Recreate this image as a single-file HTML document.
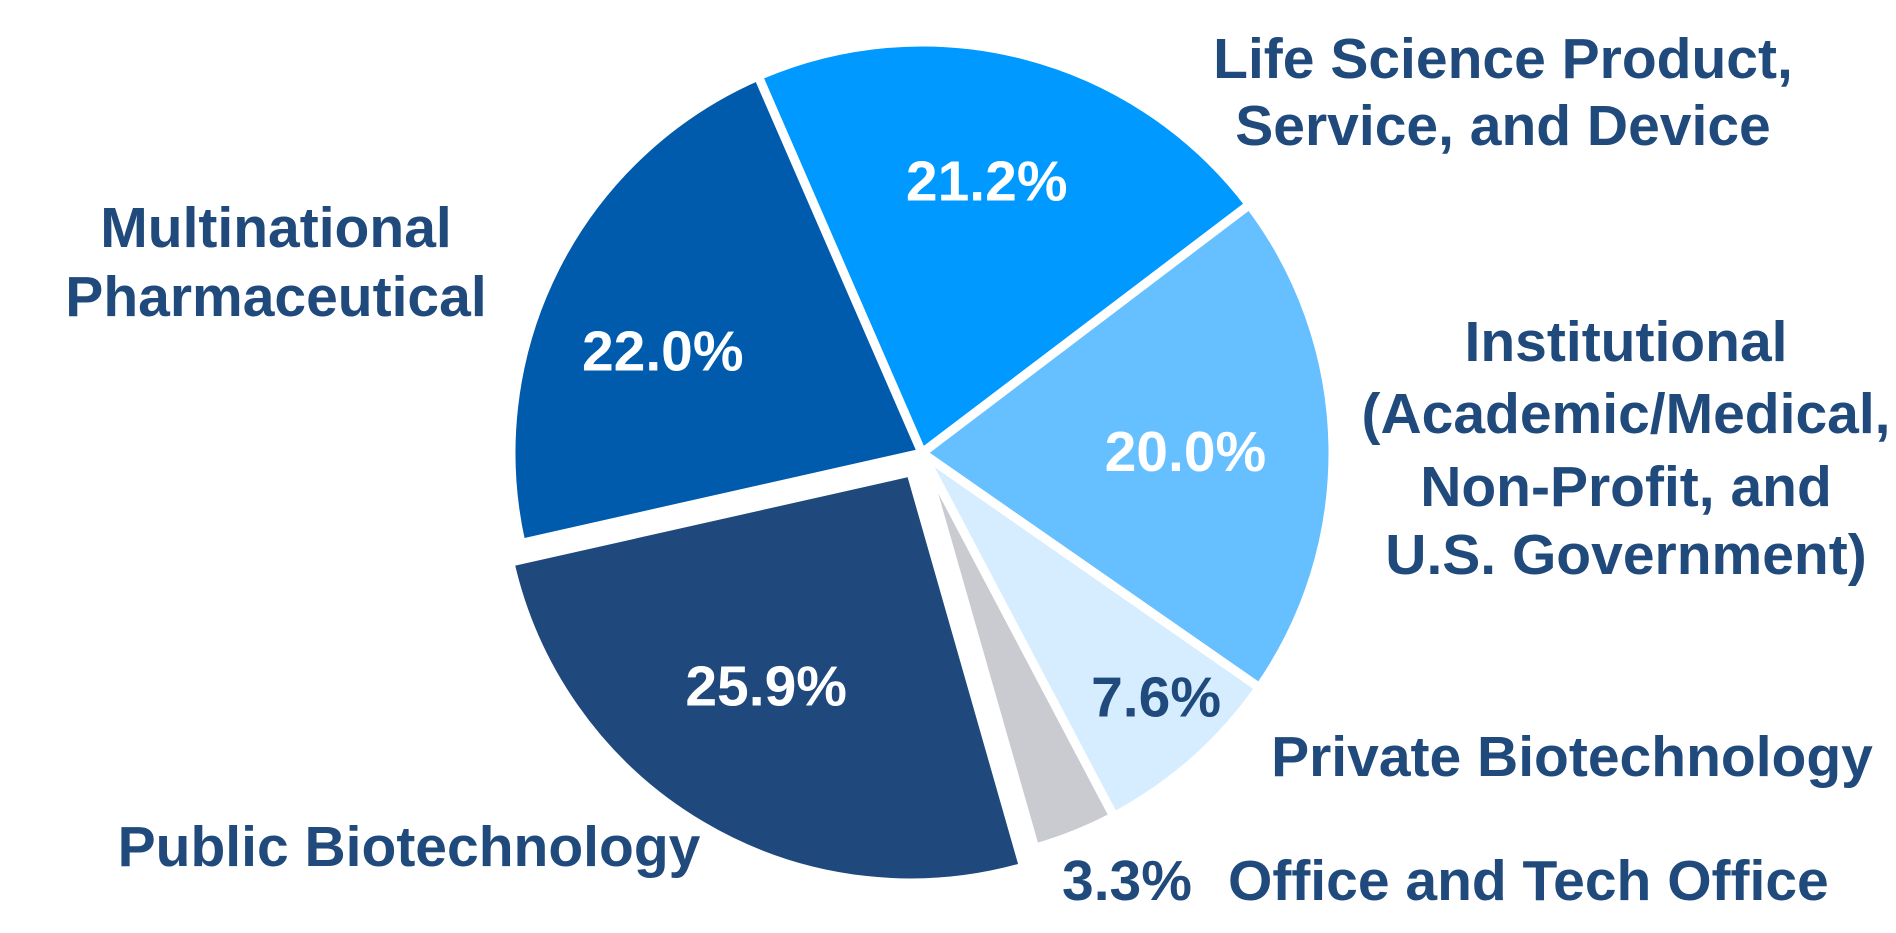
<!DOCTYPE html>
<html><head><meta charset="utf-8"><style>
html,body{margin:0;padding:0;background:#fff;}
svg{display:block;}
text{font-family:"Liberation Sans",Arial,sans-serif;font-weight:bold;}
</style></head><body>
<svg id="chart" width="1896" height="933" viewBox="0 0 1896 933" xmlns="http://www.w3.org/2000/svg">
<g id="slices"></g>
<g id="pcts"></g>
<g fill="#214a7c" font-size="57" text-anchor="middle">
<text x="1503" y="78">Life Science Product,</text>
<text x="1503" y="145">Service, and Device</text>
<text x="276" y="247">Multinational</text>
<text x="276" y="316">Pharmaceutical</text>
<text x="1626" y="361">Institutional</text>
<text x="1626" y="433">(Academic/Medical,</text>
<text x="1626" y="506">Non-Profit, and</text>
<text x="1626" y="574">U.S. Government)</text>
<text x="1572" y="776">Private Biotechnology</text>
<text x="409" y="866">Public Biotechnology</text>
<text x="1062" y="900" text-anchor="start">3.3%</text>
<text x="1228" y="900" text-anchor="start">Office and Tech Office</text>
</g>
</svg>
<script>
const categories = ["Life Science Product, Service, and Device","Institutional","Private Biotechnology","Office and Tech Office","Public Biotechnology","Multinational Pharmaceutical"];
const values = [21.2, 20.0, 7.6, 3.3, 25.9, 22.0];
const valueLabels = ["21.2%","20.0%","7.6%","","25.9%","22.0%"];
const colors = ["#0099ff","#66bfff","#d6edff","#c9cbd1","#1f497d","#005bac"];
const labelColors = ["#fff","#fff","#214a7c","#fff","#fff","#fff"];
const explode = [0,0,0,0,22,0];
const nudgeX = [-6,-16,8,0,-2,-10];
const nudgeY = [-2,4,-12,0,-27,24];

const cx = 922, cy = 453, R = 411, startDeg = -23.5;
const ns = "http://www.w3.org/2000/svg";
const total = values.reduce((a,b)=>a+b,0);
function pt(deg, r, ox, oy){ const a = deg*Math.PI/180; return [ox + r*Math.sin(a), oy - r*Math.cos(a)]; }
const gS = document.getElementById('slices'), gP = document.getElementById('pcts');
let ang = startDeg;
values.forEach((v,i)=>{
  const sweep = v/total*360, a0 = ang, a1 = ang+sweep, mid = ang+sweep/2;
  const [ox,oy] = pt(mid, explode[i], cx, cy);
  const p0 = pt(a0,R,ox,oy), p1 = pt(a1,R,ox,oy);
  const path = document.createElementNS(ns,'path');
  path.setAttribute('d',`M${ox},${oy} L${p0[0]},${p0[1]} A${R},${R} 0 ${sweep>180?1:0} 1 ${p1[0]},${p1[1]} Z`);
  path.setAttribute('fill',colors[i]);
  path.setAttribute('stroke','#fff');
  path.setAttribute('stroke-width','9');
  path.setAttribute('stroke-linejoin','round');
  
  
  gS.appendChild(path);
  if(valueLabels[i]){
    const lr = sweep < 40 ? 0.83*R : 0.68*R;
    const lp = pt(mid, lr, ox, oy);
    const t = document.createElementNS(ns,'text');
    t.setAttribute('x',lp[0]+nudgeX[i]); t.setAttribute('y',lp[1]+20+nudgeY[i]);
    t.setAttribute('text-anchor','middle'); t.setAttribute('font-size','57');
    t.setAttribute('fill',labelColors[i]);
    t.textContent = valueLabels[i];
    
    
    gP.appendChild(t);
  }
  ang = a1;
});
</script>
</body></html>
